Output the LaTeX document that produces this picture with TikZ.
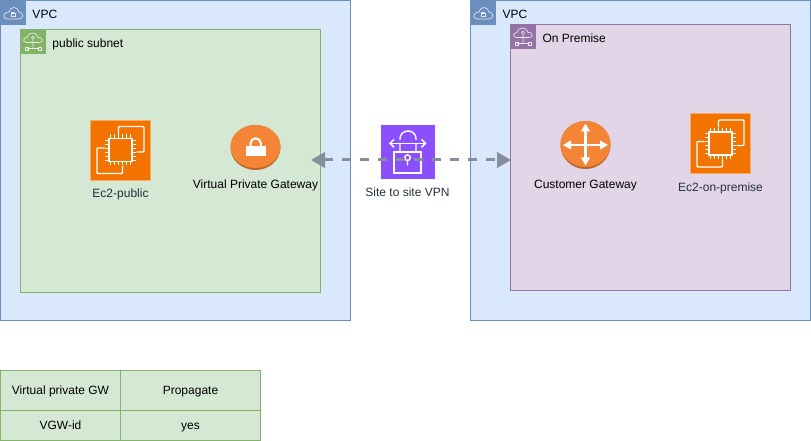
\documentclass[tikz,border=0pt]{standalone}
\usepackage{fontspec}
\setmainfont{Liberation Sans}
\usetikzlibrary{arrows.meta,positioning,shapes.geometric}
\definecolor{vpcfill}{HTML}{DAE8FC}
\definecolor{vpcline}{HTML}{6C8EBF}
\definecolor{subfill}{HTML}{D5E8D4}
\definecolor{subline}{HTML}{82B366}
\definecolor{premfill}{HTML}{E1D5E7}
\definecolor{premline}{HTML}{9673A6}
\definecolor{ecorange}{HTML}{F37300}
\definecolor{gworange}{HTML}{F58536}
\definecolor{gwshade}{HTML}{B8652E}
\definecolor{vpnpurple}{HTML}{8C4FFF}
\definecolor{flowgray}{HTML}{858E9C}
\definecolor{textgray}{HTML}{232F3E}
\tikzset{%
	every node/.style = {outer sep=0pt},
	vpc/.style     = {draw=vpcline, fill=vpcfill, rectangle, anchor=north west, line width=0.75pt},
	subnet/.style  = {draw=subline, fill=subfill, rectangle, anchor=north west, line width=0.75pt},
	premise/.style = {draw=premline, fill=premfill, rectangle, anchor=north west, line width=0.75pt},
	tag/.style     = {rectangle, anchor=north west, inner sep=0pt, minimum width=25*0.75pt, minimum height=25*0.75pt},
	title/.style   = {anchor=west, inner sep=0pt, yshift=-0.75pt, text height=8.5pt, text depth=2pt, font=\fontsize{9}{11}\selectfont},
	label/.style   = {anchor=center, inner sep=0pt, text height=8.5pt, text depth=2pt, font=\fontsize{9}{11}\selectfont},
	iconlabel/.style = {label, text=textgray},
	iconbox/.style = {rectangle, inner sep=0pt, minimum width=60*0.75pt, minimum height=60*0.75pt, fill=ecorange, draw=ecorange!60!white, line width=0.5pt},
	vpnbox/.style  = {rectangle, inner sep=0pt, minimum width=54*0.75pt, minimum height=54*0.75pt, fill=vpnpurple},
	gateway/.style = {ellipse, inner sep=0pt, minimum width=50*0.75pt, minimum height=43*0.75pt, fill=gworange},
	cell/.style    = {draw=subline, fill=subfill, rectangle, inner sep=0pt, line width=0.75pt, text height=8.5pt, text depth=2pt, font=\fontsize{9}{11}\selectfont},
	glyph/.style   = {draw=white, line width=1.1pt, fill=none},
	flow/.style    = {draw=flowgray, line width=2.25pt, dash pattern=on 6.4pt off 7.1pt, {Triangle[length=10.5pt,width=11.5pt]}-{Triangle[length=10.5pt,width=11.5pt]}},
}
% small cloud with a lock, for the vpc tags
\newcommand{\cloudglyph}[1]{%
	\begin{scope}[shift={(#1)}]
	\draw[white, line width=0.5pt, opacity=.8] (-6,6) -- (6,6) .. controls (11,6) and (11,-1) .. (6,-1) .. controls (5,-7) and (-3,-7) .. (-4,-1) .. controls (-10,-1) and (-11,6) .. (-6,6);
	\draw[white, line width=0.5pt, opacity=.8] (-2,0.5) rectangle (2,3.5) (-1.2,0.5) -- (-1.2,-1) -- (1.2,-1) -- (1.2,0.5);
	\end{scope}
}
% cloud with three small squares, for the subnet tags
\newcommand{\netglyph}[1]{%
	\begin{scope}[shift={(#1)}]
	\draw[white, line width=0.5pt, opacity=.8] (-6,1) .. controls (-11,1) and (-10,-4) .. (-6,-4) .. controls (-5,-10) and (4,-10) .. (5,-4) .. controls (10,-5) and (11,1) .. (6,1) -- (-6,1);
	\draw[white, line width=0.5pt, opacity=.8] (0,-4) circle (1.5) (0,-2.5) -- (0,7) (-6,7) -- (6,7);
	\draw[white, line width=0.5pt, opacity=.8] (-8,5.5) rectangle (-5,8.5) (5,5.5) rectangle (8,8.5);
	\end{scope}
}
% chip inside two frames
\newcommand{\chipglyph}[1]{%
	\begin{scope}[shift={(#1)}]
	\draw[glyph, rounded corners=0.7pt] (-2,-16) -- (-2,-23.5) -- (23.5,-23.5) -- (23.5,2) -- (16,2);
	\draw[glyph, rounded corners=0.7pt] (2,16) -- (2,23.5) -- (-23.5,23.5) -- (-23.5,-2) -- (-16,-2);
	\draw[glyph] (-11.5,-11.5) rectangle (11.5,11.5);
	\foreach \p in {-10,-6,-2,2,6,10} {
		\draw[glyph, line width=0.65pt] (\p,-15.5) -- (\p,-11.5) (\p,11.5) -- (\p,15.5);
		\draw[glyph, line width=0.65pt] (-15.5,\p) -- (-11.5,\p) (11.5,\p) -- (15.5,\p);
	}
	\end{scope}
}
\begin{document}
\begin{tikzpicture}[x=0.75pt,y=-0.75pt]
	\useasboundingbox (0,0) rectangle (811,441);
	
	% left side
	\node[vpc, minimum width=350*0.75pt, minimum height=320*0.75pt] (vpcleft) at (0.5,0.5) {};
	\node[tag, fill=vpcline] (vpclefttag) at (0.5,0.5) {};
	\cloudglyph{13,13}
	\node[title, right=7*0.75pt of vpclefttag] (vpcleftname) {VPC};
	\node[subnet, minimum width=300*0.75pt, minimum height=263*0.75pt] (public) at (20.5,29.5) {};
	\node[tag, fill=subline] (publictag) at (20.5,29.5) {};
	\netglyph{33,41.5}
	\node[title, right=7*0.75pt of publictag] (publicname) {public subnet};
	
	% right side
	\node[vpc, minimum width=340*0.75pt, minimum height=320*0.75pt] (vpcright) at (470.5,0.5) {};
	\node[tag, fill=vpcline] (vpcrighttag) at (470.5,0.5) {};
	\cloudglyph{483,13}
	\node[title, right=7*0.75pt of vpcrighttag] (vpcrightname) {VPC};
	\node[premise, minimum width=280*0.75pt, minimum height=266*0.75pt] (onprem) at (510.5,24.5) {};
	\node[tag, fill=premline] (onpremtag) at (510.5,24.5) {};
	\netglyph{523,36.5}
	\node[title, right=7*0.75pt of onpremtag] (onpremname) {On Premise};
	
	% ec2 instances
	\node[iconbox] (ecpublic) at (120.5,150) {};
	\chipglyph{120.5,150}
	\node[iconlabel] (ecpubliclabel) at (120.5,193) {Ec2-public};
	\node[iconbox] (ecprem) at (720.5,143.5) {};
	\chipglyph{720.5,143.5}
	\node[iconlabel] (ecpremlabel) at (720.5,187) {Ec2-on-premise};
	
	% gateways
	\node[gateway, minimum height=45*0.75pt, fill=gwshade] (vgwshade) at (255.5,147.5) {};
	\node[gateway] (vgw) at (255.5,146.5) {};
	\draw[white, line width=1.5pt] (250.5,147) -- (250.5,143.5) arc (180:360:5.2) -- (260.9,147);
	\fill[white] (245.5,146) rectangle (265.5,156);
	\node[label] (vgwlabel) at (255.5,184) {Virtual Private Gateway};
	\node[gateway, minimum height=48*0.75pt, fill=gwshade] (cgwshade) at (585.5,145) {};
	\node[gateway, minimum height=46*0.75pt] (cgw) at (585.5,144) {};
	\draw[white, line width=1.9pt, {Triangle[length=6pt,width=6.5pt]}-{Triangle[length=6pt,width=6.5pt]}] (563,145) -- (608,145);
	\draw[white, line width=1.9pt, {Triangle[length=6pt,width=6.5pt]}-{Triangle[length=6pt,width=6.5pt]}] (585.5,123.5) -- (585.5,165.5);
	\node[label] (cgwlabel) at (585.5,184) {Customer Gateway};
	
	% vpn link
	\coordinate (linkleft) at (311,160);
	\coordinate (linkright) at (511,160);
	\node[vpnbox] (vpn) at (407.5,152) {};
	\draw[glyph] (394,173) rectangle (421,152);
	\draw[glyph] (400,140) -- (400,138.5) arc (180:360:8 and 7.5) -- (416,140) (400,143) -- (400,152) (416,143) -- (416,152);
	\draw[glyph, <->, >={Straight Barb[length=3pt,width=6pt]}] (389,143.3) -- (426.5,143.3);
	\draw[glyph] (407.5,157.7) circle (2.8) (407.5,160.5) -- (407.5,165.5);
	\draw[flow] (linkleft) -- (linkright);
	\node[iconlabel] (vpnlabel) at (407.5,192) {Site to site VPN};
	
	% route table
	\node[cell, minimum width=120*0.75pt, minimum height=40*0.75pt] (gwhead) at (60.5,390.5) {Virtual private GW};
	\node[cell, minimum width=140*0.75pt, minimum height=40*0.75pt, right=0pt of gwhead] (prophead) {Propagate};
	\node[cell, minimum width=120*0.75pt, minimum height=30*0.75pt, below=0pt of gwhead] (gwid) {VGW-id};
	\node[cell, minimum width=140*0.75pt, minimum height=30*0.75pt, below=0pt of prophead] (propval) {yes};
\end{tikzpicture}
\end{document}
